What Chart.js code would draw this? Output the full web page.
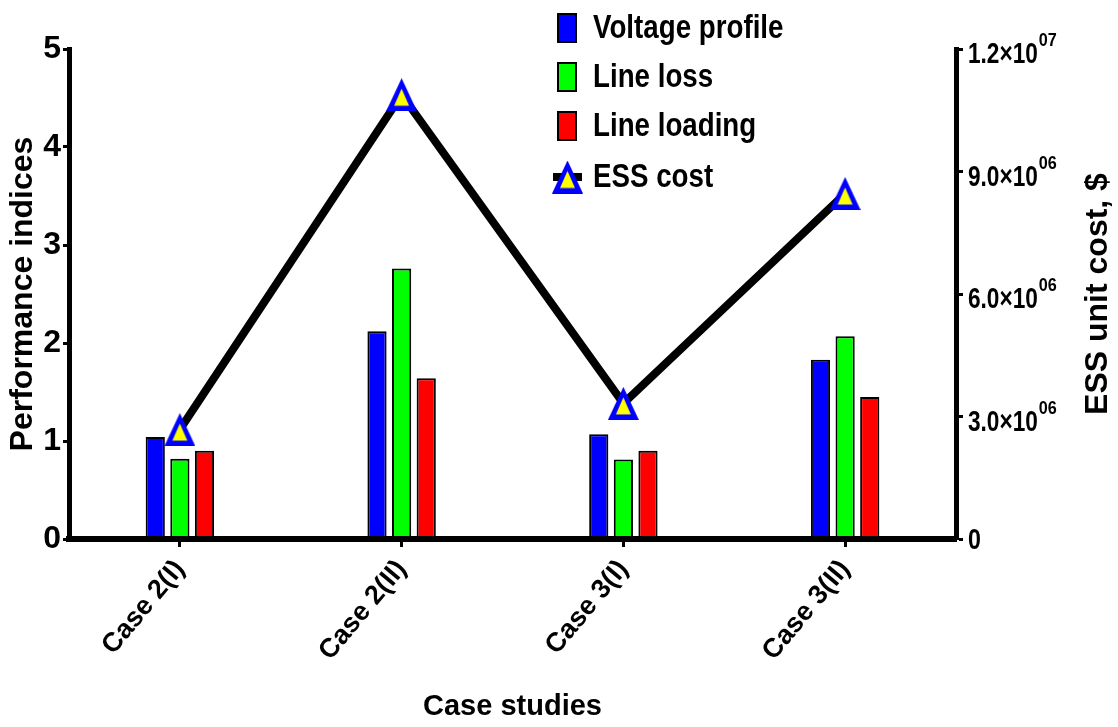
<!DOCTYPE html>
<html>
<head>
<meta charset="utf-8">
<script src="https://cdn.jsdelivr.net/npm/chart.js@4.4.1/dist/chart.umd.min.js"></script>
<style>
html,body{margin:0;padding:0;background:#fff;}
#c{display:block;}
</style>
</head>
<body>
<canvas id="c" width="1118" height="727"></canvas>
<script>
// ---- data ----
const categories = ['Case 2(I)', 'Case 2(II)', 'Case 3(I)', 'Case 3(II)'];
const voltageProfile = [1.04, 2.12, 1.07, 1.83];
const lineLoss = [0.82, 2.76, 0.81, 2.07];
const lineLoading = [0.90, 1.64, 0.90, 1.45];
const essCost = [2.68e6, 10.88e6, 3.32e6, 8.46e6];
const seriesNames = ['Voltage profile', 'Line loss', 'Line loading', 'ESS cost'];
const rightTickValues = [0, 3e6, 6e6, 9e6, 12e6];
const rightTickMantissa = ['0', '3.0×10', '6.0×10', '9.0×10', '1.2×10'];
const rightTickExponent = ['', '06', '06', '06', '07'];

// ---- styles ----
const REG = "'Liberation Sans', Arial, sans-serif";

// triangle marker (blue outline, yellow fill)
function makeTriangle() {
  const c = document.createElement('canvas');
  c.width = 31; c.height = 33;
  const g = c.getContext('2d');
  g.fillStyle = '#0000ff';
  g.beginPath(); g.moveTo(15.5, 0); g.lineTo(31, 33); g.lineTo(0, 33); g.closePath(); g.fill();
  g.fillStyle = '#ffff00';
  g.beginPath(); g.moveTo(15.5, 10.5); g.lineTo(23, 27.5); g.lineTo(8, 27.5); g.closePath(); g.fill();
  return c;
}
const triImg = makeTriangle();

function squeezedText(ctx, text, x, y, sx) {
  ctx.save();
  ctx.translate(x, y);
  ctx.scale(sx, 1);
  ctx.fillText(text, 0, 0);
  const w = ctx.measureText(text).width * sx;
  ctx.restore();
  return w;
}

const overlayPlugin = {
  id: 'overlay',
  afterDraw(chart) {
    const ctx = chart.ctx;
    ctx.save();
    // legend
    const rowsY = [28, 77, 126, 177];
    chart.data.datasets.forEach((ds, i) => {
      const yc = rowsY[i];
      if (ds.type === 'line') {
        ctx.strokeStyle = '#000'; ctx.lineWidth = 8;
        ctx.beginPath(); ctx.moveTo(553, yc); ctx.lineTo(582, yc); ctx.stroke();
        ctx.drawImage(triImg, 567.5 - triImg.width / 2, yc - triImg.height / 2);
      } else {
        ctx.fillStyle = ds.backgroundColor;
        ctx.fillRect(557, yc - 15, 20, 30);
        ctx.strokeStyle = '#000'; ctx.lineWidth = 2;
        ctx.strokeRect(558, yc - 14, 18, 28);
      }
      ctx.fillStyle = '#000';
      ctx.font = 'bold 33px ' + REG;
      ctx.textAlign = 'left'; ctx.textBaseline = 'middle';
      squeezedText(ctx, ds.label, 593, yc + 1, 0.84);
    });
    // right axis tick labels with exponents
    const s = chart.scales.y1;
    ctx.textAlign = 'left'; ctx.textBaseline = 'alphabetic';
    rightTickValues.forEach((v, i) => {
      const py = s.getPixelForValue(v);
      const x = s.left + 12;
      const m = rightTickMantissa[i], e = rightTickExponent[i];
      ctx.font = 'bold 29px ' + REG;
      if (!e) {
        squeezedText(ctx, m, x, py + 10, 0.8);
      } else {
        const w = squeezedText(ctx, m, x, py + 14, 0.78);
        ctx.font = 'bold 18px ' + REG;
        squeezedText(ctx, e, x + w + 1, py - 3, 0.9);
      }
    });
    // right axis title (reads bottom to top)
    const ca = chart.chartArea;
    ctx.translate(1098, (ca.top + ca.bottom) / 2);
    ctx.rotate(-Math.PI / 2);
    ctx.font = 'bold 32px ' + REG;
    ctx.textAlign = 'center'; ctx.textBaseline = 'middle';
    ctx.fillText('ESS unit cost, $', 0, 0);
    ctx.restore();
  }
};

const ctx = document.getElementById('c').getContext('2d');
new Chart(ctx, {
  type: 'bar',
  data: {
    labels: categories,
    datasets: [
      { type: 'bar', label: seriesNames[0], data: voltageProfile, backgroundColor: '#0000ff', borderColor: '#000', borderWidth: 2, yAxisID: 'y', order: 1, barPercentage: 0.78, categoryPercentage: 0.333 },
      { type: 'bar', label: seriesNames[1], data: lineLoss, backgroundColor: '#00ff00', borderColor: '#000', borderWidth: 2, yAxisID: 'y', order: 1, barPercentage: 0.78, categoryPercentage: 0.333 },
      { type: 'bar', label: seriesNames[2], data: lineLoading, backgroundColor: '#ff0000', borderColor: '#000', borderWidth: 2, yAxisID: 'y', order: 1, barPercentage: 0.78, categoryPercentage: 0.333 },
      { type: 'line', label: seriesNames[3], data: essCost, yAxisID: 'y1', borderColor: '#000', borderWidth: 8, tension: 0, fill: false, pointStyle: triImg, pointRadius: 17, pointHoverRadius: 17, order: 0, clip: false }
    ]
  },
  options: {
    responsive: false,
    animation: false,
    devicePixelRatio: 1,
    layout: { padding: { top: 49, left: 0, right: 0, bottom: 0 } },
    plugins: { legend: { display: false }, tooltip: { enabled: false } },
    scales: {
      x: {
        type: 'category',
        offset: true,
        grid: { offset: false, drawOnChartArea: false, drawTicks: true, tickLength: 8, tickWidth: 3, tickColor: '#000' },
        border: { display: true, color: '#000', width: 6, z: 1 },
        ticks: { color: '#000', font: { family: REG, size: 27, weight: 'bold' }, minRotation: 50, maxRotation: 50, padding: 7, autoSkip: false },
        title: { display: true, text: 'Case studies', color: '#000', font: { family: REG, size: 29, weight: 'bold' }, padding: { top: 0, bottom: 3 } },
        afterFit: (s) => { s.height = 188; }
      },
      y: {
        position: 'left',
        min: 0, max: 5,
        ticks: { stepSize: 1, color: '#000', font: { family: REG, size: 32, weight: 'bold' }, padding: 2 },
        grid: { drawOnChartArea: false, drawTicks: true, tickLength: 6, tickWidth: 3, tickColor: '#000' },
        border: { display: true, color: '#000', width: 5, z: 1 },
        title: { display: true, text: 'Performance indices', color: '#000', font: { family: REG, size: 32, weight: 'bold' }, padding: { top: 4, bottom: 0 } },
        afterFit: (s) => { s.width = 69; }
      },
      y1: {
        position: 'right',
        min: 0, max: 12e6,
        ticks: { stepSize: 3e6, display: false },
        grid: { drawOnChartArea: false, drawTicks: true, tickLength: 7, tickWidth: 3, tickColor: '#000' },
        border: { display: true, color: '#000', width: 5, z: 1 },
        afterFit: (s) => { s.width = 162; }
      }
    }
  },
  plugins: [overlayPlugin]
});
</script>
</body>
</html>
